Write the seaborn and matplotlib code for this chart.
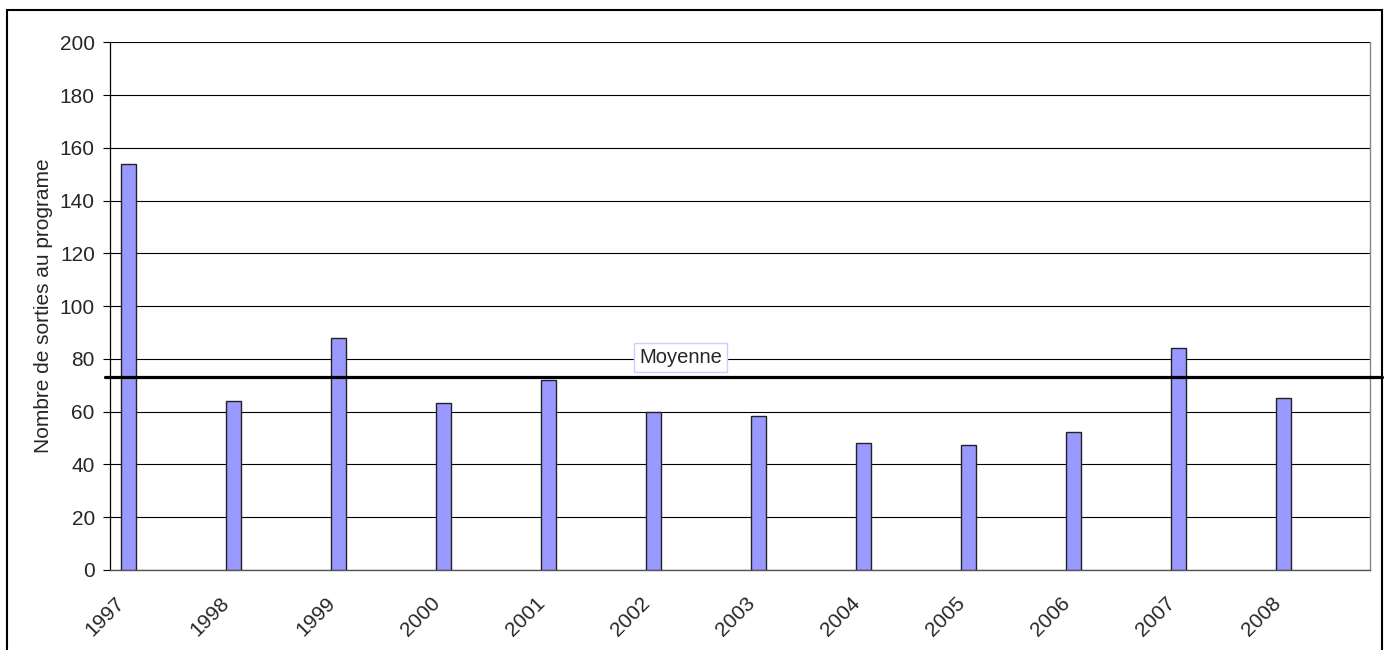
import matplotlib
matplotlib.use('Agg')
import matplotlib.pyplot as plt
import matplotlib.transforms as mtransforms
from matplotlib.patches import Rectangle
import seaborn as sns
import pandas as pd

years = ['1997', '1998', '1999', '2000', '2001', '2002',
         '2003', '2004', '2005', '2006', '2007', '2008']
sorties = [154, 64, 88, 63.4, 72, 60, 58.3, 48, 47.2, 52.3, 84, 65]
moyenne = 73.3

sns.set_style('white')
plt.rcParams['font.family'] = ['Liberation Sans', 'DejaVu Sans']

df = pd.DataFrame({'annee': years, 'sorties': sorties})

fig = plt.figure(figsize=(13.88, 6.5), dpi=100)
ax = fig.add_axes([0.0793, 0.1231, 0.9077, 0.8118])

sns.barplot(data=df, x='annee', y='sorties', color='#9999ff', saturation=1,
            width=0.143, edgecolor='#222222', linewidth=1.0, ax=ax, zorder=3)

ax.set_ylim(0, 200)
ax.set_xlim(-0.171, 11.819)
ax.set_yticks(range(0, 201, 20))
ax.yaxis.grid(True, color='black', linewidth=0.8, zorder=1)
ax.set_axisbelow(True)

ax.set_xlabel('')
ax.set_ylabel('Nombre de sorties au programe', fontsize=15, labelpad=5)

ax.tick_params(axis='y', labelsize=15, length=5, width=0.8, color='black', pad=6, left=True)
ax.tick_params(axis='x', labelsize=15, length=0, pad=17)
for lab in ax.get_xticklabels():
    lab.set_rotation(45)
    lab.set_ha('right')
    lab.set_va('top')
    lab.set_rotation_mode('anchor')
    lab.set_transform(lab.get_transform() + mtransforms.ScaledTranslation(-13 / 100, 0, fig.dpi_scale_trans))

ax.spines['left'].set_color('black')
ax.spines['left'].set_linewidth(0.9)
ax.spines['bottom'].set_color('#555555')
ax.spines['bottom'].set_linewidth(1.0)
ax.spines['right'].set_color('#888888')
ax.spines['right'].set_linewidth(1.0)
ax.spines['top'].set_visible(False)

# ligne de la moyenne
ln = ax.axhline(moyenne, xmin=-0.004, xmax=1.0095, color='black', linewidth=2.3, zorder=4)
ln.set_clip_on(False)
ax.text(5.257, 80.6, 'Moyenne', fontsize=14.5, ha='center', va='center', zorder=5,
        bbox=dict(boxstyle='square,pad=0.25', facecolor='white', edgecolor='#ccccff', linewidth=1.0))

# cadre du graphique
fig.patches.append(Rectangle((7 / 1388, -0.1), (1382 - 7) / 1388, 1 - 10 / 650 + 0.1,
                             transform=fig.transFigure, fill=False, edgecolor='black', linewidth=1.5))

plt.savefig('out.png', dpi=100)
